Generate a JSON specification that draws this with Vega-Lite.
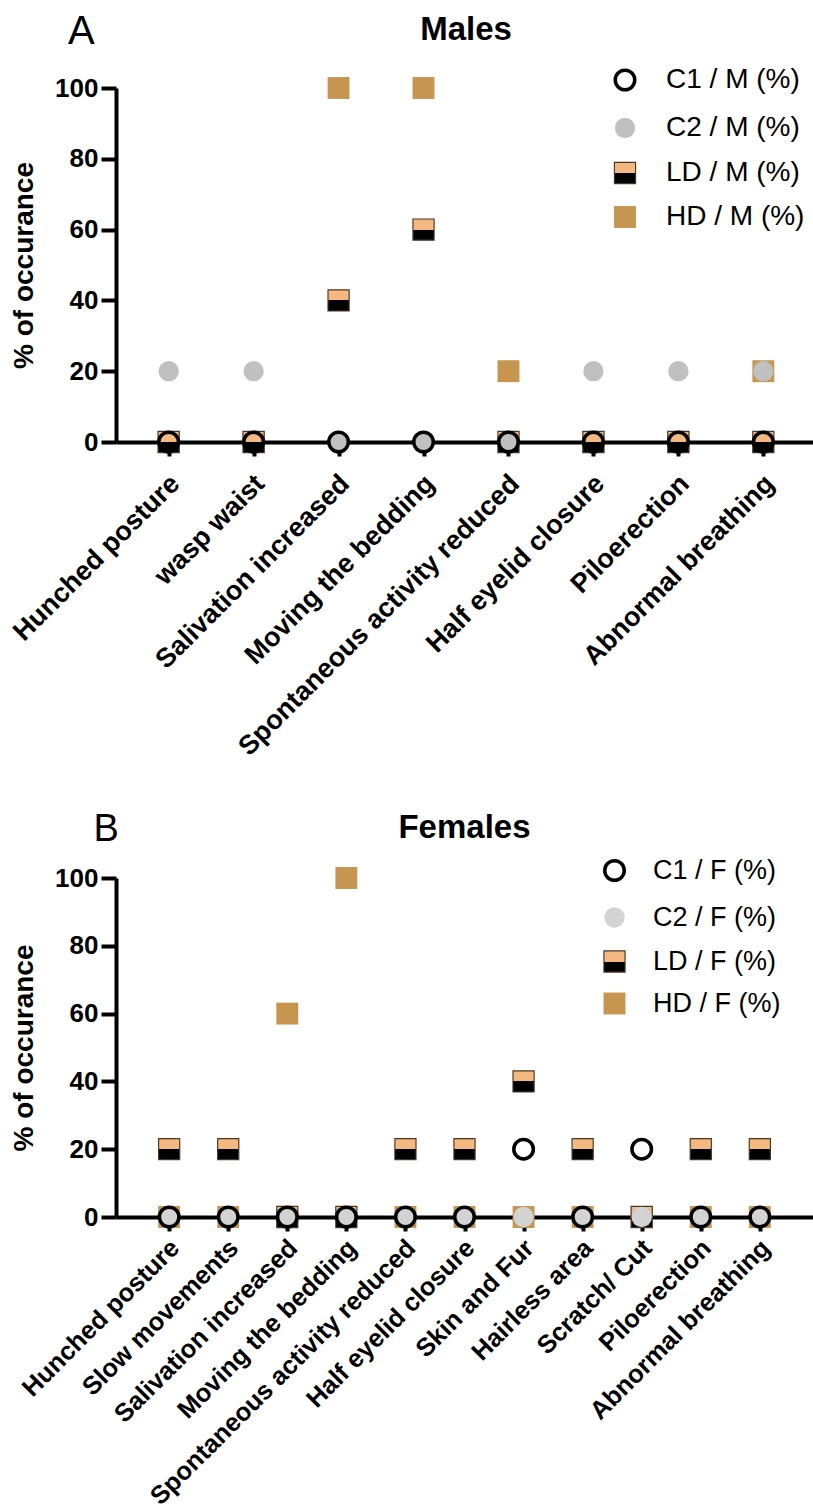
{
  "$schema": "https://vega.github.io/schema/vega-lite/v6.json",
  "padding": {"left": 7, "top": 12, "right": 0, "bottom": 0},
  "background": "white",
  "config": {
    "font": "Liberation Sans",
    "view": {"stroke": null},
    "axis": {
      "domainColor": "black", "domainWidth": 4, "tickColor": "black", "tickWidth": 4,
      "labelColor": "black", "titleColor": "black", "labelFont": "Liberation Sans",
      "titleFont": "Liberation Sans", "labelFontWeight": "bold", "titleFontWeight": "bold",
      "grid": false, "labelFontSize": 26, "titleFontSize": 28, "labelLimit": 1000
    },
    "axisX": {"tickSize": 14, "labelAngle": -45, "labelPadding": 14, "labelFontSize": 27, "labelOffset": -3},
    "axisY": {"tickSize": 15, "labelPadding": 3, "titlePadding": 16},
    "legend": {"labelFontSize": 28, "labelFont": "Liberation Sans", "labelColor": "black", "rowPadding": 16, "labelOffset": 27, "padding": 0},
    "title": {"fontSize": 33, "fontWeight": "bold", "color": "black", "font": "Liberation Sans"}
  },
  "datasets": {
    "males": [
      {"symptom": "Hunched posture", "series": "HD / M (%)", "pct": 0},
      {"symptom": "wasp waist", "series": "HD / M (%)", "pct": 0},
      {"symptom": "Salivation increased", "series": "HD / M (%)", "pct": 100},
      {"symptom": "Moving the bedding", "series": "HD / M (%)", "pct": 100},
      {"symptom": "Spontaneous activity reduced", "series": "HD / M (%)", "pct": 20},
      {"symptom": "Half eyelid closure", "series": "HD / M (%)", "pct": 0},
      {"symptom": "Piloerection", "series": "HD / M (%)", "pct": 0},
      {"symptom": "Abnormal breathing", "series": "HD / M (%)", "pct": 20},
      {"symptom": "Hunched posture", "series": "LD / M (%)", "pct": 0},
      {"symptom": "wasp waist", "series": "LD / M (%)", "pct": 0},
      {"symptom": "Salivation increased", "series": "LD / M (%)", "pct": 40},
      {"symptom": "Moving the bedding", "series": "LD / M (%)", "pct": 60},
      {"symptom": "Spontaneous activity reduced", "series": "LD / M (%)", "pct": 0},
      {"symptom": "Half eyelid closure", "series": "LD / M (%)", "pct": 0},
      {"symptom": "Piloerection", "series": "LD / M (%)", "pct": 0},
      {"symptom": "Abnormal breathing", "series": "LD / M (%)", "pct": 0},
      {"symptom": "Hunched posture", "series": "C2 / M (%)", "pct": 20},
      {"symptom": "wasp waist", "series": "C2 / M (%)", "pct": 20},
      {"symptom": "Salivation increased", "series": "C2 / M (%)", "pct": 0},
      {"symptom": "Moving the bedding", "series": "C2 / M (%)", "pct": 0},
      {"symptom": "Spontaneous activity reduced", "series": "C2 / M (%)", "pct": 0},
      {"symptom": "Half eyelid closure", "series": "C2 / M (%)", "pct": 20},
      {"symptom": "Piloerection", "series": "C2 / M (%)", "pct": 20},
      {"symptom": "Abnormal breathing", "series": "C2 / M (%)", "pct": 20},
      {"symptom": "Hunched posture", "series": "C1 / M (%)", "pct": 0},
      {"symptom": "wasp waist", "series": "C1 / M (%)", "pct": 0},
      {"symptom": "Salivation increased", "series": "C1 / M (%)", "pct": 0},
      {"symptom": "Moving the bedding", "series": "C1 / M (%)", "pct": 0},
      {"symptom": "Spontaneous activity reduced", "series": "C1 / M (%)", "pct": 0},
      {"symptom": "Half eyelid closure", "series": "C1 / M (%)", "pct": 0},
      {"symptom": "Piloerection", "series": "C1 / M (%)", "pct": 0},
      {"symptom": "Abnormal breathing", "series": "C1 / M (%)", "pct": 0}
    ],
    "females": [
      {"symptom": "Hunched posture", "series": "HD / F (%)", "pct": 0},
      {"symptom": "Slow movements", "series": "HD / F (%)", "pct": 0},
      {"symptom": "Salivation increased", "series": "HD / F (%)", "pct": 60},
      {"symptom": "Moving the bedding", "series": "HD / F (%)", "pct": 100},
      {"symptom": "Spontaneous activity reduced", "series": "HD / F (%)", "pct": 0},
      {"symptom": "Half eyelid closure", "series": "HD / F (%)", "pct": 0},
      {"symptom": "Skin and Fur", "series": "HD / F (%)", "pct": 0},
      {"symptom": "Hairless area", "series": "HD / F (%)", "pct": 0},
      {"symptom": "Scratch/ Cut", "series": "HD / F (%)", "pct": 0},
      {"symptom": "Piloerection", "series": "HD / F (%)", "pct": 0},
      {"symptom": "Abnormal breathing", "series": "HD / F (%)", "pct": 0},
      {"symptom": "Hunched posture", "series": "LD / F (%)", "pct": 20},
      {"symptom": "Slow movements", "series": "LD / F (%)", "pct": 20},
      {"symptom": "Salivation increased", "series": "LD / F (%)", "pct": 0},
      {"symptom": "Moving the bedding", "series": "LD / F (%)", "pct": 0},
      {"symptom": "Spontaneous activity reduced", "series": "LD / F (%)", "pct": 20},
      {"symptom": "Half eyelid closure", "series": "LD / F (%)", "pct": 20},
      {"symptom": "Skin and Fur", "series": "LD / F (%)", "pct": 40},
      {"symptom": "Hairless area", "series": "LD / F (%)", "pct": 20},
      {"symptom": "Scratch/ Cut", "series": "LD / F (%)", "pct": 0},
      {"symptom": "Piloerection", "series": "LD / F (%)", "pct": 20},
      {"symptom": "Abnormal breathing", "series": "LD / F (%)", "pct": 20},
      {"symptom": "Hunched posture", "series": "C2 / F (%)", "pct": 0},
      {"symptom": "Slow movements", "series": "C2 / F (%)", "pct": 0},
      {"symptom": "Salivation increased", "series": "C2 / F (%)", "pct": 0},
      {"symptom": "Moving the bedding", "series": "C2 / F (%)", "pct": 0},
      {"symptom": "Spontaneous activity reduced", "series": "C2 / F (%)", "pct": 0},
      {"symptom": "Half eyelid closure", "series": "C2 / F (%)", "pct": 0},
      {"symptom": "Skin and Fur", "series": "C2 / F (%)", "pct": 0},
      {"symptom": "Hairless area", "series": "C2 / F (%)", "pct": 0},
      {"symptom": "Scratch/ Cut", "series": "C2 / F (%)", "pct": 0},
      {"symptom": "Piloerection", "series": "C2 / F (%)", "pct": 0},
      {"symptom": "Abnormal breathing", "series": "C2 / F (%)", "pct": 0},
      {"symptom": "Hunched posture", "series": "C1 / F (%)", "pct": 0},
      {"symptom": "Slow movements", "series": "C1 / F (%)", "pct": 0},
      {"symptom": "Salivation increased", "series": "C1 / F (%)", "pct": 0},
      {"symptom": "Moving the bedding", "series": "C1 / F (%)", "pct": 0},
      {"symptom": "Spontaneous activity reduced", "series": "C1 / F (%)", "pct": 0},
      {"symptom": "Half eyelid closure", "series": "C1 / F (%)", "pct": 0},
      {"symptom": "Skin and Fur", "series": "C1 / F (%)", "pct": 20},
      {"symptom": "Hairless area", "series": "C1 / F (%)", "pct": 0},
      {"symptom": "Scratch/ Cut", "series": "C1 / F (%)", "pct": 20},
      {"symptom": "Piloerection", "series": "C1 / F (%)", "pct": 0},
      {"symptom": "Abnormal breathing", "series": "C1 / F (%)", "pct": 0}
    ]
  },
  "spacing": 51,
  "resolve": {
    "scale": {"x": "independent", "y": "independent", "fill": "independent", "stroke": "independent", "shape": "independent", "size": "independent", "strokeWidth": "independent"},
    "legend": {"fill": "independent", "stroke": "independent", "shape": "independent", "size": "independent", "strokeWidth": "independent"}
  },
  "vconcat": [
    {
      "title": {"text": "A", "anchor": "start", "fontSize": 40, "fontWeight": "normal", "offset": -38, "dx": 60},
      "vconcat": [
        {
          "width": 700,
          "height": 354,
          "title": {"text": "Males", "offset": 28},
          "data": {"name": "males"},
          "mark": {"type": "point", "filled": true, "opacity": 1},
          "encoding": {
            "x": {"field": "symptom", "type": "nominal", "scale": {"type": "point", "padding": 0.62, "domain": ["Hunched posture", "wasp waist", "Salivation increased", "Moving the bedding", "Spontaneous activity reduced", "Half eyelid closure", "Piloerection", "Abnormal breathing"]}, "axis": {"title": null}},
            "y": {"field": "pct", "type": "quantitative", "scale": {"domain": [0, 100]}, "axis": {"title": "% of occurance", "values": [0, 20, 40, 60, 80, 100]}},
            "fill": {"field": "series", "type": "nominal", "scale": {"domain": ["C1 / M (%)", "C2 / M (%)", "LD / M (%)", "HD / M (%)"], "range": ["transparent", "#c0c0c0", {"expr": "{gradient: 'linear', x1: 0, y1: 0, x2: 0, y2: 1, stops: [{offset: 0, color: '#f5b880'}, {offset: 0.5, color: '#f5b880'}, {offset: 0.5, color: '#000000'}, {offset: 1, color: '#000000'}]}"}, "#c6954f"]}, "legend": {"orient": "none", "legendX": 495, "legendY": -22, "title": null, "rowPadding": 16}},
            "shape": {"field": "series", "type": "nominal", "scale": {"domain": ["C1 / M (%)", "C2 / M (%)", "LD / M (%)", "HD / M (%)"], "range": ["circle", "circle", "square", "square"]}},
            "stroke": {"field": "series", "type": "nominal", "scale": {"domain": ["C1 / M (%)", "C2 / M (%)", "LD / M (%)", "HD / M (%)"], "range": ["#000000", "transparent", "#4a3826", "transparent"]}},
            "strokeWidth": {"field": "series", "type": "nominal", "scale": {"domain": ["C1 / M (%)", "C2 / M (%)", "LD / M (%)", "HD / M (%)"], "range": [3.5, 0, 1.2, 0]}},
            "size": {"field": "series", "type": "nominal", "scale": {"domain": ["C1 / M (%)", "C2 / M (%)", "LD / M (%)", "HD / M (%)"], "range": [380, 480, 430, 470]}}
          }
        }
      ]
    },
    {
      "title": {"text": "B", "anchor": "start", "fontSize": 38, "fontWeight": "normal", "offset": -37, "dx": 83},
      "vconcat": [
        {
          "width": 697,
          "height": 339,
          "title": {"text": "Females", "offset": 20},
          "data": {"name": "females"},
          "mark": {"type": "point", "filled": true, "opacity": 1},
          "encoding": {
            "x": {"field": "symptom", "type": "nominal", "scale": {"type": "point", "padding": 0.9, "domain": ["Hunched posture", "Slow movements", "Salivation increased", "Moving the bedding", "Spontaneous activity reduced", "Half eyelid closure", "Skin and Fur", "Hairless area", "Scratch/ Cut", "Piloerection", "Abnormal breathing"]}, "axis": {"title": null, "labelFontSize": 25.5, "labelPadding": 4}},
            "y": {"field": "pct", "type": "quantitative", "scale": {"domain": [0, 100]}, "axis": {"title": "% of occurance", "values": [0, 20, 40, 60, 80, 100]}},
            "fill": {"field": "series", "type": "nominal", "scale": {"domain": ["C1 / F (%)", "C2 / F (%)", "LD / F (%)", "HD / F (%)"], "range": ["transparent", "#d3d3d3", {"expr": "{gradient: 'linear', x1: 0, y1: 0, x2: 0, y2: 1, stops: [{offset: 0, color: '#f5b880'}, {offset: 0.5, color: '#f5b880'}, {offset: 0.5, color: '#000000'}, {offset: 1, color: '#000000'}]}"}, "#c6954f"]}, "legend": {"orient": "none", "legendX": 485, "legendY": -21, "title": null, "rowPadding": 14, "labelFontSize": 27, "labelOffset": 25}},
            "shape": {"field": "series", "type": "nominal", "scale": {"domain": ["C1 / F (%)", "C2 / F (%)", "LD / F (%)", "HD / F (%)"], "range": ["circle", "circle", "square", "square"]}},
            "stroke": {"field": "series", "type": "nominal", "scale": {"domain": ["C1 / F (%)", "C2 / F (%)", "LD / F (%)", "HD / F (%)"], "range": ["#000000", "transparent", "#4a3826", "transparent"]}},
            "strokeWidth": {"field": "series", "type": "nominal", "scale": {"domain": ["C1 / F (%)", "C2 / F (%)", "LD / F (%)", "HD / F (%)"], "range": [3.5, 0, 1.2, 0]}},
            "size": {"field": "series", "type": "nominal", "scale": {"domain": ["C1 / F (%)", "C2 / F (%)", "LD / F (%)", "HD / F (%)"], "range": [380, 480, 430, 470]}}
          }
        }
      ]
    }
  ]
}
